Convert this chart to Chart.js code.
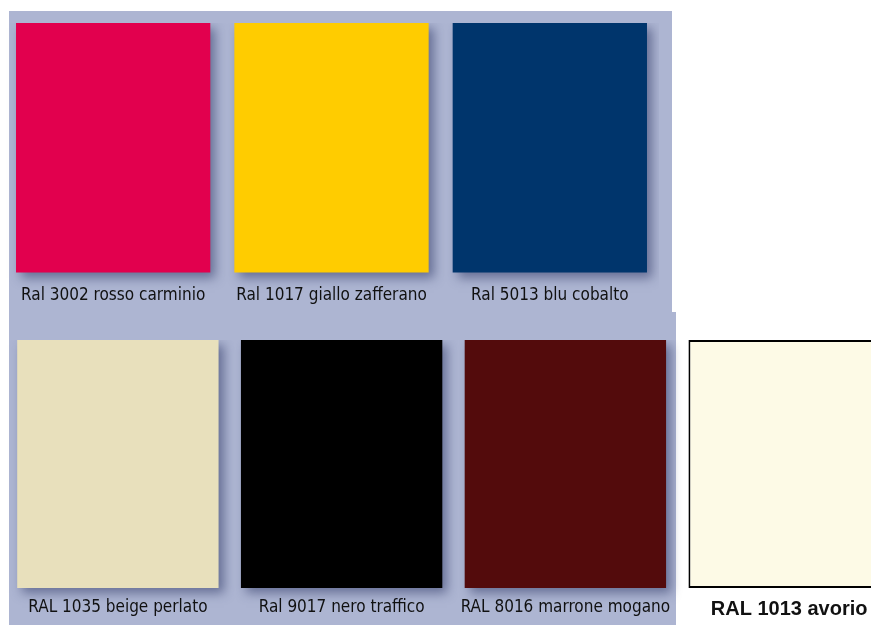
<!DOCTYPE html>
<html>
<head>
<meta charset="utf-8">
<script src="https://cdn.jsdelivr.net/npm/chart.js@4.4.1/dist/chart.umd.min.js"></script>
<style>
    html, body { margin: 0; padding: 0; background: #fff; overflow: hidden; width: 871px; height: 625px; }
    .panel { position: absolute; background: #adb5d2; }
    .box { position: absolute; }
</style>
</head>
<body>
<div class="panel" style="left:9px; top:11px; width:663px; height:301px;"></div>
<div class="panel" style="left:9px; top:312px; width:667px; height:313px;"></div>
<div class="box" style="left:4px; top:23px; width:655px; height:296px;"><canvas id="top-chart"></canvas></div>
<div class="box" style="left:6px; top:340px; width:895px; height:290px;"><canvas id="bottom-chart"></canvas></div>
<script>
    // swatch names (shown as the axis labels) and their RAL colours
    const topNames = ['Ral 3002 rosso carminio', 'Ral 1017 giallo zafferano', 'Ral 5013 blu cobalto'];
    const topRal = ['#e2004e', '#ffcc00', '#00356c'];
    const topValues = [1, 1, 1];

    const bottomNames = ['RAL 1035 beige perlato', 'Ral 9017 nero traffico', 'RAL 8016 marrone mogano', 'RAL 1013 avorio'];
    const bottomRal = ['#e8e0bc', '#000000', '#530b0c', '#fdfae6'];
    const panelValues = [1, 1, 1, null];
    const ivoryValues = [null, null, null, 1];

    const labelFont = { family: "'DejaVu Sans Condensed', 'Liberation Sans Narrow', 'DejaVu Sans', sans-serif", size: 17 };
    const boldFont = { family: "'Liberation Sans', Arial, sans-serif", size: 20, weight: 'bold' };

    // drop shadow under the swatches that sit on the lavender panel
    const swatchShadow = {
        id: 'swatchShadow',
        beforeDatasetDraw(chart, args) {
            if (!chart.data.datasets[args.index].shadow) return;
            const ctx = chart.ctx;
            ctx.save();
            ctx.shadowColor = 'rgba(45,55,100,0.55)';
            ctx.shadowBlur = 10;
            ctx.shadowOffsetX = 5;
            ctx.shadowOffsetY = 5;
        },
        afterDatasetDraw(chart, args) {
            if (!chart.data.datasets[args.index].shadow) return;
            chart.ctx.restore();
        }
    };

    function swatchOptions(padding, fontFor) {
        return {
            responsive: true,
            maintainAspectRatio: false,
            animation: false,
            layout: { padding: 0 },
            datasets: { bar: { grouped: false, categoryPercentage: 1, borderSkipped: false, clip: false } },
            plugins: { legend: { display: false }, tooltip: { enabled: false } },
            scales: {
                x: {
                    grid: { display: false, drawTicks: false },
                    border: { display: false },
                    ticks: {
                        color: '#111',
                        padding,
                        autoSkip: false,
                        maxRotation: 0,
                        minRotation: 0,
                        font: fontFor
                    }
                },
                y: { display: false, min: 0, max: 1 }
            }
        };
    }

    new Chart(document.getElementById('top-chart'), {
        type: 'bar',
        data: {
            labels: topNames,
            datasets: [{
                data: topValues,
                backgroundColor: topRal,
                barPercentage: 0.89,
                borderWidth: 0,
                shadow: true
            }]
        },
        options: swatchOptions(13, () => labelFont),
        plugins: [swatchShadow]
    });

    new Chart(document.getElementById('bottom-chart'), {
        type: 'bar',
        data: {
            labels: bottomNames,
            datasets: [{
                data: panelValues,
                backgroundColor: bottomRal,
                barPercentage: 0.9,
                borderWidth: 0,
                shadow: true
            }, {
                data: ivoryValues,
                backgroundColor: bottomRal,
                borderColor: '#000',
                borderWidth: 2,
                barPercentage: 0.9
            }]
        },
        options: swatchOptions(9, ctx => ctx.index === 3 ? boldFont : labelFont),
        plugins: [swatchShadow]
    });
</script>
</body>
</html>
